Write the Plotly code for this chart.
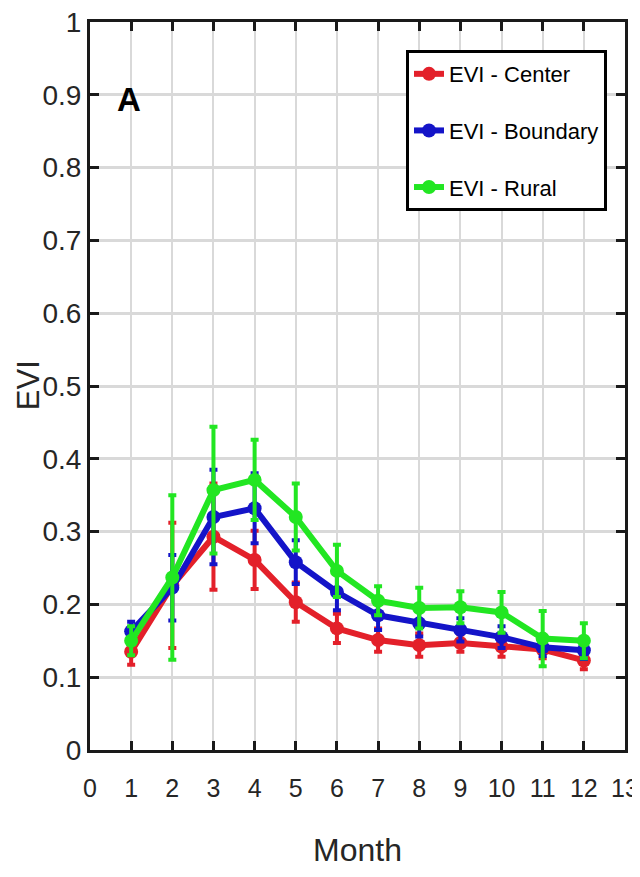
import plotly.graph_objects as go

months = list(range(1, 13))

center = [0.135, 0.226, 0.293, 0.261, 0.203, 0.167, 0.151, 0.144, 0.147, 0.142, 0.138, 0.123]
center_err = [0.018, 0.086, 0.073, 0.040, 0.027, 0.020, 0.016, 0.016, 0.012, 0.014, 0.012, 0.012]

boundary = [0.163, 0.223, 0.320, 0.332, 0.258, 0.217, 0.185, 0.174, 0.165, 0.155, 0.141, 0.137]
boundary_err = [0.013, 0.045, 0.065, 0.048, 0.030, 0.025, 0.020, 0.018, 0.016, 0.015, 0.012, 0.012]

rural = [0.150, 0.237, 0.357, 0.371, 0.320, 0.246, 0.205, 0.195, 0.196, 0.189, 0.153, 0.150]
rural_err = [0.020, 0.113, 0.087, 0.055, 0.046, 0.036, 0.020, 0.028, 0.022, 0.028, 0.038, 0.024]

series_names = ["EVI - Center", "EVI - Boundary", "EVI - Rural"]
series_vals = [center, boundary, rural]
series_errs = [center_err, boundary_err, rural_err]
colors = ["#e3202a", "#1414c8", "#22e622"]

x_ticks = list(range(0, 14))
y_ticks = [round(v * 0.1, 1) for v in range(0, 11)]

FONT = "Liberation Sans, Arial"

fig = go.Figure()
for i, (name, vals, errs, col) in enumerate(zip(series_names, series_vals, series_errs, colors)):
    fig.add_trace(go.Scatter(
        x=months, y=vals, name=name, mode="lines+markers",
        line=dict(color=col, width=6),
        marker=dict(color=col, size=14, symbol="circle"),
        error_y=dict(type="data", array=errs, visible=True, color=col, thickness=4, width=4),
        legendgroup=f"g{i}",
    ))

fig.add_annotation(x=0.95, y=0.893, text="<b>A</b>", showarrow=False,
                   font=dict(family=FONT, size=33, color="black"), xref="x", yref="y")
fig.add_annotation(x=-0.116, y=0.501, xref="paper", yref="paper", text="EVI",
                   textangle=-90, showarrow=False, xanchor="center", yanchor="middle",
                   font=dict(family=FONT, size=31, color="#262626"))
fig.add_annotation(x=0.5, y=-0.138, xref="paper", yref="paper", text="Month",
                   showarrow=False, xanchor="center", yanchor="middle",
                   font=dict(family=FONT, size=32, color="#262626"))

# The page body has an 8px margin, so the figure is sized to fit inside the
# 640x877 window without a vertical scrollbar; margins place the plot area at
# x 90-625, y 22-750 on the page.
fig.update_layout(
    width=632, height=861,
    margin=dict(l=82, r=15, t=14, b=119),
    paper_bgcolor="white", plot_bgcolor="white",
    font=dict(family=FONT, size=28, color="#262626"),
    showlegend=True,
    legend=dict(
        x=0.9664, y=0.9615, xanchor="right", yanchor="top",
        bgcolor="white", bordercolor="black", borderwidth=3,
        font=dict(family=FONT, size=22, color="black"),
        tracegroupgap=25, itemwidth=30,
    ),
    xaxis=dict(
        range=[0, 13], tickvals=x_ticks, ticktext=[str(v) for v in x_ticks],
        tickfont=dict(size=25), ticklabelstandoff=14, ticklabeloverflow="allow",
        showgrid=True, gridcolor="#d9d9d9", gridwidth=2,
        showline=True, linecolor="#1a1a1a", linewidth=3, mirror="ticks",
        ticks="inside", ticklen=9, tickwidth=3, tickcolor="#1a1a1a",
        zeroline=False, automargin=False,
    ),
    yaxis=dict(
        range=[0, 1], tickvals=y_ticks, ticktext=[("%g" % v) for v in y_ticks],
        tickfont=dict(size=28), ticklabeloverflow="allow",
        showgrid=True, gridcolor="#d9d9d9", gridwidth=3,
        showline=True, linecolor="#1a1a1a", linewidth=3, mirror="ticks",
        ticks="inside", ticklen=9, tickwidth=3, tickcolor="#1a1a1a",
        zeroline=False, automargin=False,
    ),
)

fig.write_html("out.html")
